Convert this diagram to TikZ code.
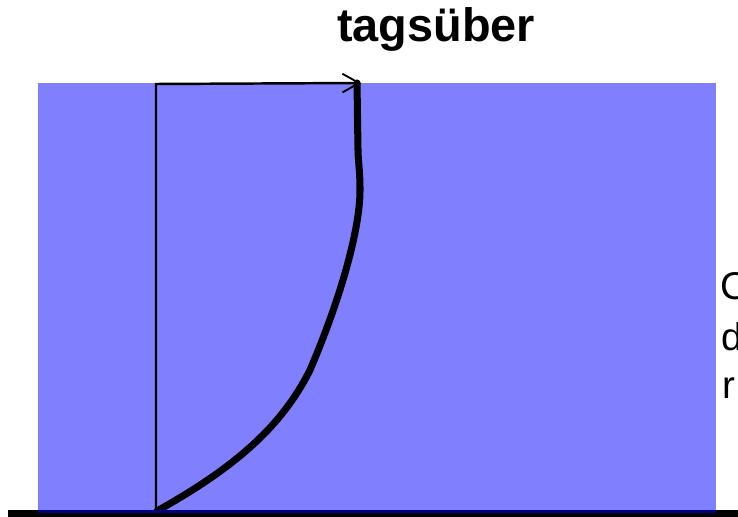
\documentclass[tikz,border=0pt]{standalone}
\usepackage{fontspec}
\setmainfont{Liberation Sans}
\usetikzlibrary{arrows.meta}
\definecolor{wasser}{HTML}{8080FF}
\definecolor{boden}{HTML}{000080}
\tikzset{
  profil/.style={line width=6pt, line join=round, line cap=round},
  achse/.style={line width=2.1pt},
  seitentext/.style={anchor=base west, inner sep=0pt, font=\fontsize{33}{40}\selectfont}
}
\begin{document}
\begin{tikzpicture}[x=0.03cm, y=-0.03cm]
    \useasboundingbox (0,0) rectangle (738,517);
    % Wasserkoerper
    \fill[wasser] (38,83) rectangle (716,512);

    % Titel
    \node[anchor=base, inner sep=0pt, font=\bfseries\fontsize{40}{48}\selectfont] (titel) at (436,42) {tagsüber};

    % Achsen
    \coordinate (fuss) at (156,512);
    \coordinate (ecke) at (156,84);
    \coordinate (spitze) at (361,83);
    \draw[achse, -{Straight Barb[length=0.5cm, width=0.56cm, line width=1.6pt]}] (fuss) -- (ecke) -- (spitze);

    % Profil
    \draw[profil] (157,511) .. controls (230,470) and (280,430) .. (310,370)
        .. controls (340,300) and (360,230) .. (360,190)
        .. controls (360,170) and (358,160) .. (358,150) -- (357,83);

    % Boden
    \draw[line width=6pt] (8,513.5) -- (738,513.5);
    \draw[boden, line width=3pt] (38,511.5) -- (716,511.5);

    % Text rechts
    \node[seitentext] (zeileC) at (720,300) {C};
    \node[seitentext] (zeileD) at (721,350) {d};
    \node[seitentext] (zeileR) at (722,398) {r};
\end{tikzpicture}
\end{document}
